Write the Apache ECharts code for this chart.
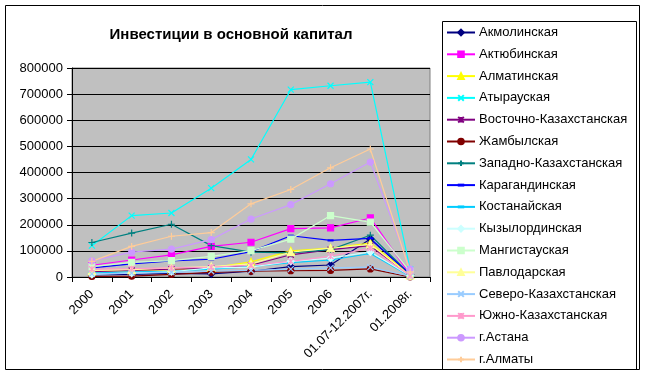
<!DOCTYPE html>
<html>
<head>
<meta charset="utf-8">
<script src="https://cdn.jsdelivr.net/npm/echarts@6/dist/echarts.min.js"></script>
<style>
  html, body { margin: 0; padding: 0; background: #fff; }
  #chart { width: 647px; height: 377px; }
</style>
</head>
<body>
<div id="chart"></div>
<script>
var categories = ['2000', '2001', '2002', '2003', '2004', '2005', '2006', '01.07-12.2007г.', '01.2008г.'];
var yTicks = [0, 100000, 200000, 300000, 400000, 500000, 600000, 700000, 800000];

// значения в тыс. -> умножаем ниже
var akmola      = [8, 10, 14, 12, 22, 40, 46, 145, 10];
var aktobe      = [45, 65, 85, 117, 133, 185, 188, 226, 8];
var almatyObl   = [20, 25, 28, 35, 58, 100, 111, 130, 8];
var atyrau      = [120, 235, 245, 340, 450, 717, 732, 746, 30];
var vostKaz     = [20, 25, 30, 33, 45, 85, 105, 120, 5];
var zhambyl     = [2, 3, 10, 18, 22, 24, 25, 31, 0];
var zapKaz      = [132, 168, 202, 120, 95, 92, 105, 160, 10];
var karaganda   = [35, 50, 62, 68, 97, 158, 140, 148, 10];
var kostanay    = [15, 20, 22, 30, 40, 55, 65, 90, 3];
var kyzylorda   = [10, 15, 20, 35, 38, 60, 72, 96, 5];
var mangistau   = [40, 56, 63, 79, 101, 145, 235, 210, 20];
var pavlodar    = [25, 28, 35, 40, 50, 95, 110, 125, 5];
var sevKaz      = [12, 15, 18, 22, 25, 30, 35, 38, 3];
var yuzhKaz     = [30, 32, 35, 38, 45, 60, 80, 110, 5];
var astana      = [62, 95, 107, 143, 222, 277, 357, 440, 30];
var almatyCity  = [60, 117, 156, 170, 280, 335, 418, 490, 20];

var X_PATH = 'path://M0,0L10,10M10,0L0,10';
var STAR_PATH = 'path://M5,0L5,10M0,0L10,10M10,0L0,10';
var PLUS_PATH = 'path://M5,0L5,10M0,5L10,5';
// тире: лишние точки M задают квадратную рамку
var DASH_PATH = 'path://M0,0L0,0M10,10L10,10M1,4.2L9,4.2L9,5.8L1,5.8Z';

function mk(name, data, color, symbol, size) {
    return {
        name: name,
        type: 'line',
        data: data.map(function (v) { return v * 1000; }),
        symbol: symbol,
        symbolSize: size,
        showAllSymbol: true,
        lineStyle: { color: color, width: 1.2 },
        itemStyle: { color: color, borderColor: color, borderWidth: 1.2 },
        emphasis: { disabled: true },
        animation: false
    };
}

var series = [
    mk('Акмолинская', akmola, '#000080', 'diamond', 7),
    mk('Актюбинская', aktobe, '#FF00FF', 'rect', 6),
    mk('Алматинская', almatyObl, '#FFFF00', 'triangle', 7),
    mk('Атырауская', atyrau, '#00FFFF', X_PATH, 6),
    mk('Восточно-Казахстанская', vostKaz, '#800080', STAR_PATH, 6),
    mk('Жамбылская', zhambyl, '#800000', 'circle', 6),
    mk('Западно-Казахстанская', zapKaz, '#008080', PLUS_PATH, 7),
    mk('Карагандинская', karaganda, '#0000FF', DASH_PATH, 6),
    mk('Костанайская', kostanay, '#00CCFF', DASH_PATH, 8),
    mk('Кызылординская', kyzylorda, '#CCFFFF', 'diamond', 7),
    mk('Мангистауская', mangistau, '#CCFFCC', 'rect', 6),
    mk('Павлодарская', pavlodar, '#FFFF99', 'triangle', 7),
    mk('Северо-Казахстанская', sevKaz, '#99CCFF', X_PATH, 6),
    mk('Южно-Казахстанская', yuzhKaz, '#FF99CC', STAR_PATH, 6),
    mk('г.Астана', astana, '#CC99FF', 'circle', 6),
    mk('г.Алматы', almatyCity, '#FFCC99', PLUS_PATH, 7)
];

var font = '"Liberation Sans", Arial, sans-serif';

var myChart = echarts.init(document.getElementById('chart'));
var option = {
    backgroundColor: '#fff',
    animation: false,
    title: {
        text: 'Инвестиции в основной капитал',
        left: 226,
        top: 22,
        textAlign: 'center',
        textStyle: { fontFamily: font, fontSize: 15, fontWeight: 'bold', color: '#000' }
    },
    legend: {
        orient: 'vertical',
        left: 446,
        top: 25.5,
        padding: 0,
        itemWidth: 28,
        itemHeight: 7,
        itemGap: 7.8,
        textStyle: { fontFamily: font, fontSize: 13, color: '#000', lineHeight: 14, padding: [0, 0, 0, -1] },
        data: series.map(function (s) { return s.name; })
    },
    grid: {
        left: 72,
        top: 68,
        width: 358,
        height: 209,
        show: true,
        backgroundColor: '#C0C0C0',
        borderColor: '#808080',
        borderWidth: 1
    },
    xAxis: {
        type: 'category',
        data: categories,
        boundaryGap: true,
        axisLine: { lineStyle: { color: '#000', width: 1 } },
        axisTick: { show: true, length: 5, lineStyle: { color: '#000' } },
        axisLabel: { rotate: 45, margin: 15, interval: 0, fontFamily: font, fontSize: 13, color: '#000' },
        splitLine: { show: false }
    },
    yAxis: {
        type: 'value',
        min: yTicks[0],
        max: yTicks[yTicks.length - 1],
        interval: 100000,
        axisLine: { show: true, lineStyle: { color: '#000', width: 1 } },
        axisTick: { show: true, length: 5, lineStyle: { color: '#000' } },
        axisLabel: {
            margin: 9, fontFamily: font, fontSize: 13, color: '#000',
            formatter: function (v) { return String(v); }
        },
        splitLine: { show: true, lineStyle: { color: '#000', width: 1 } }
    },
    graphic: [
        {
            type: 'rect',
            shape: { x: 5.5, y: 5.5, width: 634, height: 364 },
            style: { fill: null, stroke: '#000', lineWidth: 1 },
            z: -10
        },
        {
            type: 'rect',
            shape: { x: 442.5, y: 21.5, width: 194, height: 348 },
            style: { fill: null, stroke: '#000', lineWidth: 1 },
            z: -10
        }
    ],
    series: series
};
myChart.setOption(option);
</script>
</body>
</html>
